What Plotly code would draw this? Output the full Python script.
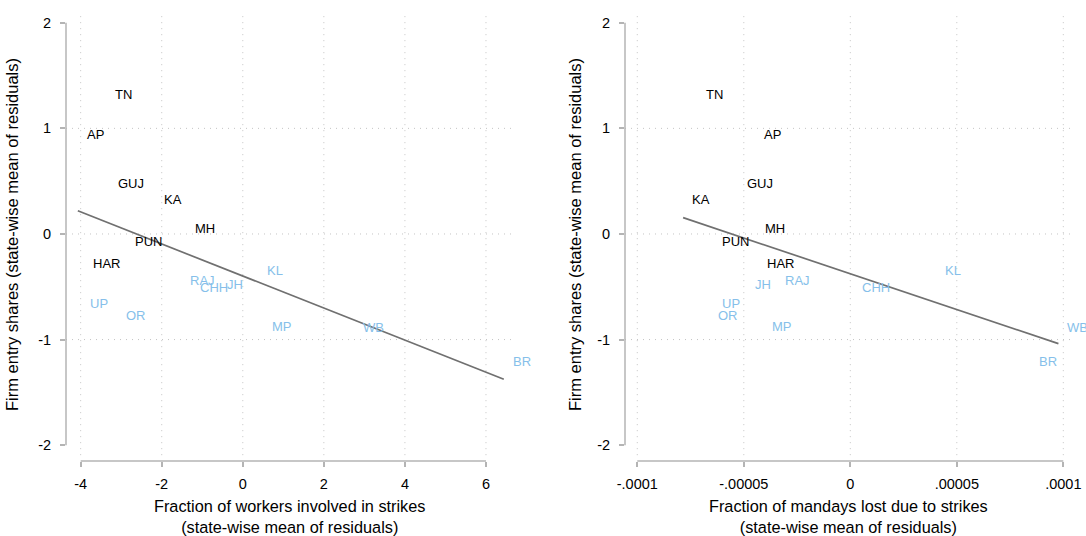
import numpy as np
import plotly.graph_objects as go

# ---------------- data ----------------
STATES = ["TN", "AP", "GUJ", "KA", "MH", "PUN", "HAR",
          "RAJ", "CHH", "JH", "KL", "UP", "OR", "MP", "WB", "BR"]
IS_HIGH = [True, True, True, True, True, True, True,
           False, False, False, False, False, False, False, False, False]
ENTRY = [1.34, 0.96, 0.50, 0.35, 0.07, -0.05, -0.26,
         -0.42, -0.49, -0.46, -0.33, -0.64, -0.75, -0.86, -0.87, -1.19]
WORKERS = [-3.37, -4.07, -3.31, -2.16, -1.39, -2.88, -3.92,
           -1.52, -1.29, -0.60, 0.37, -3.99, -3.10, 0.50, 2.74, 6.44]
MANDAYS = [-7.22e-5, -4.49e-5, -5.27e-5, -7.85e-5, -4.41e-5, -6.43e-5, -4.35e-5,
           -3.47e-5, 0.14e-5, -4.92e-5, 4.00e-5, -6.45e-5, -6.63e-5, -4.10e-5,
           9.77e-5, 8.42e-5]

Y_TICKS = [2, 1, 0, -1, -2]
Y_TICKTEXT = ["2", "1", "0", "-1", "-2"]
X1_TICKS = [-4, -2, 0, 2, 4, 6]
X1_TICKTEXT = ["-4", "-2", "0", "2", "4", "6"]
X2_TICKS = [-1e-4, -5e-5, 0, 5e-5, 1e-4]
X2_TICKTEXT = ["-.0001", "-.00005", "0", ".00005", ".0001"]

Y_TITLE = "Firm entry shares (state-wise mean of residuals)"
X1_TITLE = "Fraction of workers involved in strikes<br>(state-wise mean of residuals)"
X2_TITLE = "Fraction of mandays lost due to strikes<br>(state-wise mean of residuals)"

# ---------------- styling ----------------
FONT = "Liberation Sans, Arial, sans-serif"
W, H = 1086, 536
BLACK = "#000000"
BLUE = "#86bfea"
AXIS_COL = "#b4b4b4"
GRID_COL = "#c4c4c4"
FIT_COL = "#707070"

X1_DOM = [66 / W, 513 / W]
X2_DOM = [625 / W, 1072 / W]
Y_DOM = [(H - 461) / H, (H - 12) / H]
Y_RANGE = [-2.150, 2.102]
X1_RANGE = [-4.362, 6.667]
X2_RANGE = [-1.0577e-4, 1.0408e-4]

fig = go.Figure()
annotations = []
shapes = []


def add_panel(xvals, xref, yref, xticks, xticktext, xtitle, xdom, ytitle_x):
    x = np.array(xvals)
    y = np.array(ENTRY)
    slope, icpt = np.polyfit(x, y, 1)
    xs = np.array([x.min(), x.max()])
    fig.add_trace(go.Scatter(
        x=xs, y=icpt + slope * xs, mode="lines",
        line=dict(color=FIT_COL, width=1.7),
        xaxis=xref, yaxis=yref, hoverinfo="skip", showlegend=False))
    fig.add_trace(go.Scatter(
        x=x, y=y, mode="markers", marker=dict(size=4, opacity=0),
        text=STATES, hoverinfo="text",
        xaxis=xref, yaxis=yref, showlegend=False))
    for s, xv, yv, hi in zip(STATES, xvals, ENTRY, IS_HIGH):
        annotations.append(dict(
            x=xv, y=yv, xref=xref, yref=yref, text=s, showarrow=False,
            xanchor="left", yanchor="middle", xshift=7, yshift=-2,
            font=dict(family=FONT, size=13, color=BLACK if hi else BLUE)))
    xr = xref
    yr = yref
    # gridlines
    for t in Y_TICKS[1:-1]:
        shapes.append(dict(type="line", xref=f"{xr} domain", yref=yr,
                           x0=0, x1=1, y0=t, y1=t, layer="below",
                           line=dict(color=GRID_COL, width=1, dash="1px,5px")))
    for t in xticks:
        shapes.append(dict(type="line", xref=xr, yref=f"{yr} domain",
                           x0=t, x1=t, y0=0.013, y1=1, layer="below",
                           line=dict(color=GRID_COL, width=1, dash="1px,5px")))
    # axis lines spanning the tick range only
    shapes.append(dict(type="line", xref=f"{xr} domain", yref=yr,
                       x0=0, x1=0, y0=Y_TICKS[-1], y1=Y_TICKS[0],
                       line=dict(color=AXIS_COL, width=1.5)))
    shapes.append(dict(type="line", xref=xr, yref=f"{yr} domain",
                       x0=xticks[0], x1=xticks[-1], y0=0, y1=0,
                       line=dict(color=AXIS_COL, width=1.5)))
    # titles
    annotations.append(dict(
        x=(xdom[0] + xdom[1]) / 2, y=(H - 516.5) / H, xref="paper", yref="paper",
        text=xtitle, showarrow=False, xanchor="center", yanchor="middle",
        font=dict(family=FONT, size=16.3, color=BLACK)))
    annotations.append(dict(
        x=ytitle_x / W, y=(H - 235) / H, xref="paper", yref="paper",
        text=Y_TITLE, showarrow=False, textangle=-90,
        xanchor="center", yanchor="middle",
        font=dict(family=FONT, size=16.5, color=BLACK)))


add_panel(WORKERS, "x", "y", X1_TICKS, X1_TICKTEXT, X1_TITLE, X1_DOM, 12)
add_panel(MANDAYS, "x2", "y2", X2_TICKS, X2_TICKTEXT, X2_TITLE, X2_DOM, 575)

axis_common = dict(showline=False, showgrid=False, zeroline=False,
                   automargin=False,
                   ticks="outside", ticklen=5, tickwidth=1.5, tickcolor=AXIS_COL,
                   tickfont=dict(family=FONT, size=14.5, color=BLACK))

fig.update_layout(
    width=W, height=H, autosize=False,
    margin=dict(l=0, r=0, t=0, b=0, pad=0),
    paper_bgcolor="white", plot_bgcolor="white",
    showlegend=False,
    xaxis=dict(domain=X1_DOM, range=X1_RANGE, anchor="y",
               tickmode="array", tickvals=X1_TICKS, ticktext=X1_TICKTEXT,
               ticklabelstandoff=5, **axis_common),
    yaxis=dict(domain=Y_DOM, range=Y_RANGE, anchor="x",
               tickmode="array", tickvals=Y_TICKS, ticktext=Y_TICKTEXT,
               ticklabelstandoff=6, **axis_common),
    xaxis2=dict(domain=X2_DOM, range=X2_RANGE, anchor="y2",
                tickmode="array", tickvals=X2_TICKS, ticktext=X2_TICKTEXT,
                ticklabelstandoff=5, **axis_common),
    yaxis2=dict(domain=Y_DOM, range=Y_RANGE, anchor="x2",
                tickmode="array", tickvals=Y_TICKS, ticktext=Y_TICKTEXT,
                ticklabelstandoff=6, **axis_common),
    annotations=annotations,
    shapes=shapes,
)

POST = ("document.documentElement.style.margin='0';"
        "document.documentElement.style.overflow='hidden';"
        "document.body.style.margin='0';"
        "document.body.style.padding='0';"
        "document.body.style.overflow='hidden';")

fig.write_html("out.html", config={"responsive": False, "displayModeBar": False},
               post_script=POST)
